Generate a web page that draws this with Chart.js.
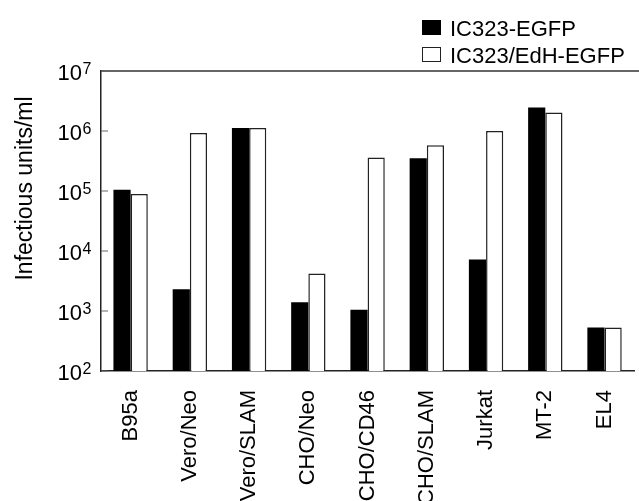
<!DOCTYPE html>
<html>
<head>
<meta charset="utf-8">
<script src="https://cdn.jsdelivr.net/npm/chart.js@4.4.1/dist/chart.umd.min.js"></script>
<style>
  html, body { margin: 0; padding: 0; background: #fff; overflow: hidden; }
  #wrap { position: relative; width: 642px; height: 501px; }
</style>
</head>
<body>
<div id="wrap"><canvas id="c"></canvas></div>
<script>
// ---- data ----
const categories = ['B95a', 'Vero/Neo', 'Vero/SLAM', 'CHO/Neo', 'CHO/CD46', 'CHO/SLAM', 'Jurkat', 'MT-2', 'EL4'];
const seriesNames = ['IC323-EGFP', 'IC323/EdH-EGFP'];
const ic323 = [1.05e5, 2.3e3, 1.12e6, 1.4e3, 1.05e3, 3.5e5, 7.2e3, 2.46e6, 5.3e2];
const ic323EdH = [8.9e4, 9.3e5, 1.12e6, 4.2e3, 3.6e5, 5.8e5, 1.0e6, 2.03e6, 5.3e2];
const yTickValues = [1e2, 1e3, 1e4, 1e5, 1e6, 1e7];
const yTickExponents = ['2', '3', '4', '5', '6', '7'];
const yTitle = 'Infectious units/ml';

const FONT = '"Liberation Sans", Arial, Helvetica, sans-serif';

const decor = {
  id: 'decor',
  afterDraw(chart) {
    const ctx = chart.ctx;
    const area = chart.chartArea;
    const y = chart.scales.y;
    ctx.save();
    // top frame line
    ctx.strokeStyle = '#333';
    ctx.lineWidth = 1.5;
    ctx.beginPath();
    ctx.moveTo(area.left, area.top);
    ctx.lineTo(chart.width, area.top);
    ctx.stroke();
    // inner tick marks + labels
    y.ticks.forEach((t, i) => {
      const py = y.getPixelForValue(t.value);
      ctx.strokeStyle = '#666';
      ctx.lineWidth = 1;
      ctx.beginPath();
      ctx.moveTo(area.left, py);
      ctx.lineTo(area.left + 7, py);
      ctx.stroke();
      ctx.fillStyle = '#000';
      ctx.textAlign = 'right';
      ctx.textBaseline = 'alphabetic';
      ctx.font = '22px ' + FONT;
      ctx.fillText('10', 82, py + 9);
      ctx.textAlign = 'left';
      ctx.font = '16px ' + FONT;
      ctx.fillText(yTickExponents[i], 82.5, py + 2.5);
    });
    // y title
    ctx.save();
    ctx.translate(32, 188.5);
    ctx.rotate(-Math.PI / 2);
    ctx.textAlign = 'center';
    ctx.textBaseline = 'alphabetic';
    ctx.font = '23px ' + FONT;
    ctx.fillStyle = '#000';
    ctx.fillText(yTitle, 0, 0);
    ctx.restore();
    // legend
    chart.data.datasets.forEach((ds, i) => {
      const ly = 27.5 + i * 27;
      ctx.fillStyle = ds.backgroundColor;
      ctx.fillRect(422, ly - 7.5, 19, 15);
      if (ds.borderWidth) {
        ctx.strokeStyle = '#222';
        ctx.lineWidth = 1;
        ctx.strokeRect(422.5, ly - 7, 18, 14);
      }
      ctx.fillStyle = '#000';
      ctx.font = '22px ' + FONT;
      ctx.textAlign = 'left';
      ctx.textBaseline = 'alphabetic';
      ctx.fillText(ds.label, 450, ly + 8);
    });
    ctx.restore();
  }
};

new Chart(document.getElementById('c'), {
  type: 'bar',
  data: {
    labels: categories,
    datasets: [
      { label: seriesNames[0], data: ic323, backgroundColor: '#000', borderColor: '#000', borderWidth: 0 },
      { label: seriesNames[1], data: ic323EdH, backgroundColor: '#fff', borderColor: '#222', borderWidth: 1.5 }
    ]
  },
  options: {
    responsive: true,
    maintainAspectRatio: false,
    animation: false,
    layout: { padding: { top: 71, right: 1, left: 0, bottom: 0 } },
    plugins: { legend: { display: false }, tooltip: { enabled: false } },
    datasets: { bar: { barPercentage: 1.0, categoryPercentage: 0.58 } },
    scales: {
      x: {
        grid: { display: false },
        border: { display: true, color: '#222', width: 1.5 },
        ticks: {
          color: '#000',
          font: { size: 22, family: FONT },
          minRotation: 90, maxRotation: 90,
          padding: 11,
          autoSkip: false
        },
        afterFit(scale) { scale.height = 130; }
      },
      y: {
        type: 'logarithmic',
        min: 100, max: 1e7,
        grid: { display: false },
        border: { display: true, color: '#222', width: 1.5 },
        ticks: { display: false },
        afterBuildTicks(scale) { scale.ticks = yTickValues.map(v => ({ value: v })); },
        afterFit(scale) { scale.width = 101; }
      }
    }
  },
  plugins: [decor]
});
</script>
</body>
</html>
